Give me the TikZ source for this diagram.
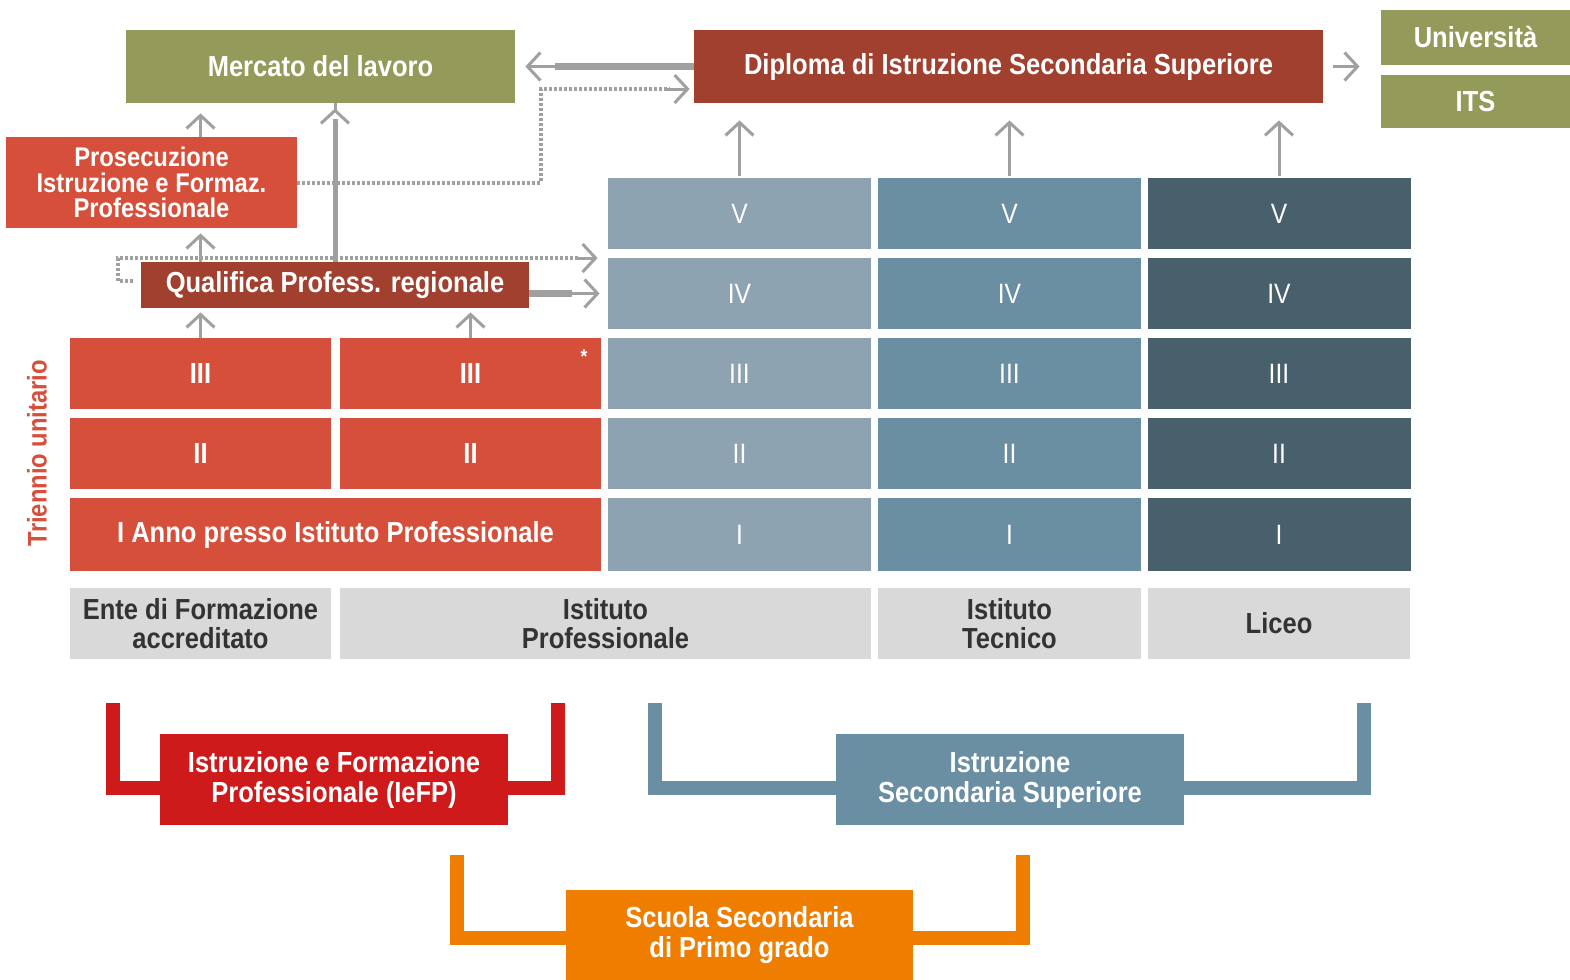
\documentclass[tikz,border=0pt]{standalone}
\usepackage{fontspec}
\setmainfont{Liberation Sans}[FakeStretch=0.88]
\usetikzlibrary{arrows.meta}
\definecolor{olivec}{HTML}{939A5A}
\definecolor{darkred}{HTML}{A1402F}
\definecolor{cellred}{HTML}{D64F3A}
\definecolor{lblue}{HTML}{8DA3B2}
\definecolor{mblue}{HTML}{6A8EA2}
\definecolor{dslate}{HTML}{485F6C}
\definecolor{lgray}{HTML}{D9D9D9}
\definecolor{bred}{HTML}{CE1A1A}
\definecolor{bblue}{HTML}{6A8EA2}
\definecolor{borange}{HTML}{EF7D00}
\definecolor{arrgray}{HTML}{A0A0A0}
\definecolor{dtext}{HTML}{333333}
\begin{document}
\begin{tikzpicture}[x=0.5pt,y=-0.5pt,
  sz/.style 2 args={minimum width=#1*0.5pt, minimum height=#2*0.5pt},
  cell/.style={inner sep=0pt, text=white, align=center,
    font=\bfseries\fontsize{14.5}{14.5}\selectfont},
  numc/.style={cell, font=\fontsize{14}{14}\selectfont},
  lab/.style={cell, fill=lgray, text=dtext},
  arr/.style={draw=arrgray, line width=1.5pt,
    -{Straight Barb[length=6.5pt,width=14pt,line width=1.5pt]}},
  dots/.style={draw=arrgray, line width=2pt, dash pattern=on 1.5pt off 1pt},
  brk/.style={line width=7pt, line join=miter, line cap=butt}
]
\useasboundingbox (0,0) rectangle (1570,980);

% top boxes
\node[cell, fill=olivec, sz={389}{73}] (merc) at (320.5,66.5) {Mercato del lavoro};
\node[cell, fill=darkred, sz={629}{73}] (dipl) at (1008.5,66.5) {Diploma di Istruzione Secondaria Superiore};
\node[cell, fill=olivec, sz={189}{55}] (univ) at (1475.5,37.5) {Università};
\node[cell, fill=olivec, sz={189}{53}] (its) at (1475.5,101.5) {ITS};
\node[cell, fill=cellred, sz={291}{91}, font=\bfseries\fontsize{13.5}{12.8}\selectfont] (pros) at (151.5,182.5) {Prosecuzione\\Istruzione e Formaz.\\Professionale};
\node[cell, fill=darkred, sz={388}{46}] (qual) at (335,285) {Qualifica Profess. regionale};

% grid: columns A,B red; C,D,E blue
\node[cell, fill=cellred, sz={261}{71}] (a3) at (200.5,373.5) {III};
\node[cell, fill=cellred, sz={261}{71}] (a2) at (200.5,453.5) {II};
\node[cell, fill=cellred, sz={261}{71}] (b3) at (470.5,373.5) {III};
\node[cell, fill=cellred, sz={261}{71}] (b2) at (470.5,453.5) {II};
\node[cell, fill=cellred, sz={531}{73}] (ab1) at (335.5,534.5) {I Anno presso Istituto Professionale};
\node[text=white, inner sep=0pt, font=\bfseries\fontsize{10}{10}\selectfont] (ast) at (584,357) {*};

\foreach \c/\x/\col in {c/739.5/lblue, d/1009.5/mblue, e/1279/dslate}{
  \node[numc, fill=\col, sz={263}{71}] (\c5) at (\x,213.5) {V};
  \node[numc, fill=\col, sz={263}{71}] (\c4) at (\x,293.5) {IV};
  \node[numc, fill=\col, sz={263}{71}] (\c3) at (\x,373.5) {III};
  \node[numc, fill=\col, sz={263}{71}] (\c2) at (\x,453.5) {II};
  \node[numc, fill=\col, sz={263}{73}] (\c1) at (\x,534.5) {I};
}

% label row
\node[lab, sz={261}{71}] (la) at (200.5,623.5) {Ente di Formazione\\accreditato};
\node[lab, sz={531}{71}] (lb) at (605.5,623.5) {Istituto\\Professionale};
\node[lab, sz={263}{71}] (ld) at (1009.5,623.5) {Istituto\\Tecnico};
\node[lab, sz={262}{71}] (le) at (1279,623.5) {Liceo};

% side label
\node[rotate=90, text=cellred, inner sep=0pt, font=\bfseries\fontsize{13.5}{13.5}\selectfont] (tri) at (37,453) {Triennio unitario};

% arrows
\draw[arr, shorten >=5pt] (pros.north -| a3) -- (merc.south -| a3);
\draw[arr, shorten >=2.5pt] (qual.north -| a3) -- (pros.south -| a3);
\draw[arr, shorten >=2pt] (a3.north) -- (qual.south -| a3);
\draw[arr, shorten >=2pt] (b3.north) -- (qual.south -| b3);
\draw[draw=arrgray, line width=2.5pt] (qual.north) -- ([yshift=-8pt]merc.south -| qual.north);
\draw[arr, shorten <=8pt, shorten >=2.5pt] ([yshift=-8pt]merc.south -| qual.north) -- (merc.south -| qual.north);
\draw[draw=arrgray, line width=3.5pt] (dipl.west) -- ([xshift=20pt]merc.east);
\draw[arr, shorten >=5pt] ([xshift=20pt]merc.east) -- (merc.east);
\draw[draw=arrgray, line width=3.5pt] (qual.east |- c4) -- ([xshift=-18pt]c4.west);
\draw[arr, shorten >=4pt] ([xshift=-18pt]c4.west) -- (c4.west);
\foreach \c in {c,d,e}{
  \draw[arr, shorten <=1pt, shorten >=8.5pt] (\c5.north) -- (dipl.south -| \c5);
}
\draw[arr, shorten <=5pt, shorten >=10.5pt] (dipl.east) -- (univ.west |- dipl.east);

% dotted connectors
\coordinate (dk) at (541,89);
\draw[dots] (pros.east) -| (dk) -- ([xshift=-12pt]dipl.west |- dk);
\draw[arr, shorten >=2pt] ([xshift=-14pt]dipl.west |- dk) -- (dipl.west |- dk);
\coordinate (q1) at (133,281);
\coordinate (q2) at (118,258);
\draw[dots] (q1) -| (q2) -- ([xshift=-14pt]c4.west |- q2);
\draw[arr, shorten >=5pt] ([xshift=-16pt]c4.west |- q2) -- (c4.west |- q2);

% brackets
\draw[brk, draw=bred] (113,703) -- (113,787.5) -- (558,787.5) -- (558,703);
\draw[brk, draw=bblue] (655,703) -- (655,787.5) -- (1364,787.5) -- (1364,703);
\draw[brk, draw=borange] (457,855) -- (457,937.5) -- (1023,937.5) -- (1023,855);
\node[cell, fill=bred, sz={348}{91}, font=\bfseries\fontsize{14.5}{15}\selectfont] (ief) at (334,779.5) {Istruzione e Formazione\\Professionale (IeFP)};
\node[cell, fill=bblue, sz={348}{91}, font=\bfseries\fontsize{14.5}{15}\selectfont] (iss) at (1010,779.5) {Istruzione\\Secondaria Superiore};
\node[cell, fill=borange, sz={347}{90}, font=\bfseries\fontsize{14.5}{15}\selectfont] (ssp) at (739.5,935) {Scuola Secondaria\\di Primo grado};
\end{tikzpicture}
\end{document}
